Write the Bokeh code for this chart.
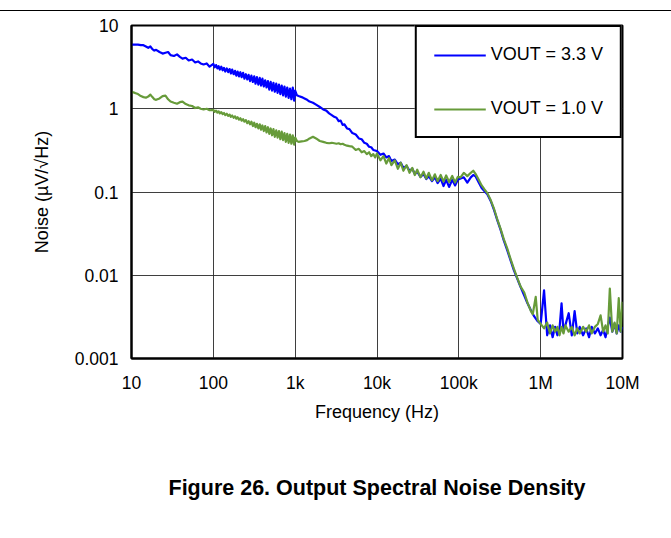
from bokeh.plotting import figure
from bokeh.models import FixedTicker, Legend, LegendItem, LogAxis, Div
from bokeh.layouts import column
from bokeh.embed import file_html
from bokeh.resources import INLINE

FONT = "Liberation Sans"

# ---------------- data ----------------
x_ticks = [10, 100, 1000, 10000, 100000, 1000000, 10000000]
x_tick_labels = ["10", "100", "1k", "10k", "100k", "1M", "10M"]
y_ticks = [0.001, 0.01, 0.1, 1, 10]
y_tick_labels = ["0.001", "0.01", "0.1", "1", "10"]

f_low = [10, 11, 12, 13, 14, 15, 16, 17, 18, 19, 20, 22, 24, 26, 28, 30, 33, 36, 39, 42,
         46, 50, 55, 60, 65, 70, 76, 83, 90]
f_mid = [100, 104, 108, 112, 116, 120, 125, 130, 135, 140, 146, 152, 158, 164, 170, 177,
         184, 191, 198, 206, 214, 222, 231, 240, 250, 260, 270, 281, 292, 304, 316, 328,
         341, 355, 369, 383, 398, 414, 430, 447, 465, 483, 502, 522, 543, 564, 587, 610,
         634, 659, 685, 712, 740, 769, 800, 832, 865, 899, 935, 972, 1000]
f_khz = [1050, 1100, 1200, 1300, 1400, 1500, 1650, 1800, 2000, 2200, 2400, 2600, 2800, 3000,
         3200, 3400, 3600, 3800, 4000, 4300, 4600, 5000, 5500, 6000, 6500, 7000, 7500, 8000,
         8500, 9000, 9500]
f_10k = [10000, 11000, 12000, 13000, 14000, 15000, 16500, 18000, 19500, 21000, 23000, 25000,
         27000, 29000, 31000, 34000, 37000, 40000, 43000, 47000, 51000, 55000, 60000, 65000,
         70000, 76000, 83000, 90000, 97000]
f_bump = [105000, 115000, 127000, 140000, 150000, 160000, 175000, 190000]
f_fall_33 = [205000, 223000, 245000, 269000, 295000, 324000, 355000, 390000, 430000, 470000,
             520000, 569000, 630000, 690000, 760000, 834000, 920000]
f_fall_10 = [205000, 223000, 245000, 269000, 295000, 324000, 355000, 390000, 430000, 470000,
             520000, 569000, 630000, 690000, 760000, 800000, 870000, 920000]
f_floor = [1.0e6, 1.1e6, 1.2e6, 1.3e6, 1.4e6, 1.5e6, 1.6e6, 1.7e6, 1.8e6, 1.9e6, 2.0e6,
           2.2e6, 2.4e6, 2.6e6, 2.8e6, 3.0e6, 3.3e6, 3.6e6, 3.9e6, 4.2e6, 4.6e6, 5.0e6,
           5.4e6, 5.8e6, 6.2e6, 6.6e6, 7.0e6, 7.5e6, 8.0e6, 8.5e6, 9.0e6, 9.5e6, 10.0e6]

# VOUT = 3.3 V  (µV/√Hz)
n33_low = [5.9, 5.9, 5.9, 5.8, 5.8, 5.6, 5.4, 5.6, 5.2, 5.0, 5.1, 4.8, 4.6, 4.7, 4.8, 4.4,
           4.3, 4.5, 4.2, 4.0, 4.1, 3.8, 3.9, 3.6, 3.7, 3.5, 3.4, 3.5, 3.2]
n33_mid = [3.45, 3.15, 3.35, 3.05, 3.25, 2.95, 3.2, 2.9, 3.1, 2.8, 3.05, 2.75, 3.0, 2.65,
           2.95, 2.6, 2.85, 2.5, 2.8, 2.45, 2.75, 2.4, 2.7, 2.3, 2.6, 2.25, 2.55, 2.15, 2.5,
           2.1, 2.45, 2.0, 2.4, 1.95, 2.35, 1.9, 2.3, 1.85, 2.2, 1.8, 2.15, 1.7, 2.1, 1.65,
           2.05, 1.6, 2.0, 1.55, 1.95, 1.5, 1.9, 1.45, 1.85, 1.4, 1.8, 1.35, 1.75, 1.3, 1.8,
           1.25, 1.65]
n33_khz = [1.45, 1.42, 1.38, 1.33, 1.28, 1.22, 1.18, 1.12, 1.05, 0.98, 0.95, 0.88, 0.84, 0.80,
           0.78, 0.71, 0.72, 0.64, 0.65, 0.58, 0.57, 0.51, 0.49, 0.44, 0.43, 0.39, 0.38, 0.35,
           0.345, 0.32, 0.315]
n33_10k = [0.31, 0.28, 0.29, 0.26, 0.27, 0.235, 0.245, 0.215, 0.225, 0.195, 0.205, 0.18, 0.19,
           0.165, 0.175, 0.152, 0.165, 0.143, 0.155, 0.135, 0.15, 0.128, 0.145, 0.118, 0.14,
           0.115, 0.14, 0.12, 0.14]
n33_bump = [0.145, 0.15, 0.13, 0.15, 0.16, 0.155, 0.13, 0.112]
n33_fall = [0.103, 0.094, 0.078, 0.061, 0.046, 0.035, 0.026, 0.020, 0.015, 0.0115, 0.0090,
            0.0072, 0.0057, 0.0046, 0.0038, 0.0032, 0.0028]
n33_floor = [0.0026, 0.0066, 0.0019, 0.0025, 0.0018, 0.0024, 0.0019, 0.0023, 0.0046, 0.0021,
             0.0025, 0.0035, 0.0019, 0.0037, 0.0020, 0.0024, 0.0019, 0.0023, 0.0018, 0.0024,
             0.0020, 0.0023, 0.0019, 0.0022, 0.0018, 0.0024, 0.0031, 0.0021, 0.0026, 0.0020,
             0.0025, 0.0021, 0.0024]

# VOUT = 1.0 V  (µV/√Hz)
n10_low = [1.6, 1.55, 1.5, 1.42, 1.38, 1.36, 1.4, 1.48, 1.38, 1.3, 1.28, 1.33, 1.42, 1.44,
           1.3, 1.22, 1.18, 1.15, 1.2, 1.22, 1.14, 1.1, 1.08, 1.02, 1.04, 1.0, 0.98, 1.0, 0.96]
n10_mid = [0.97, 0.92, 0.95, 0.90, 0.93, 0.88, 0.91, 0.86, 0.89, 0.84, 0.87, 0.82, 0.85,
           0.80, 0.83, 0.78, 0.81, 0.76, 0.79, 0.74, 0.77, 0.72, 0.75, 0.70, 0.73, 0.67,
           0.71, 0.65, 0.70, 0.62, 0.68, 0.60, 0.66, 0.58, 0.65, 0.56, 0.63, 0.54, 0.62,
           0.52, 0.60, 0.50, 0.58, 0.48, 0.57, 0.46, 0.55, 0.45, 0.54, 0.43, 0.53, 0.42,
           0.51, 0.40, 0.50, 0.39, 0.49, 0.38, 0.48, 0.37, 0.45]
n10_khz = [0.41, 0.40, 0.405, 0.41, 0.42, 0.44, 0.46, 0.44, 0.41, 0.40, 0.39, 0.385, 0.39,
           0.385, 0.38, 0.385, 0.375, 0.38, 0.37, 0.36, 0.355, 0.35, 0.32, 0.33, 0.30, 0.31,
           0.285, 0.30, 0.27, 0.285, 0.26]
n10_10k = [0.29, 0.24, 0.27, 0.22, 0.255, 0.21, 0.24, 0.19, 0.225, 0.18, 0.21, 0.17, 0.195,
           0.16, 0.185, 0.15, 0.175, 0.145, 0.17, 0.138, 0.163, 0.135, 0.16, 0.133, 0.158,
           0.132, 0.156, 0.13, 0.152]
n10_bump = [0.15, 0.17, 0.155, 0.17, 0.18, 0.165, 0.14, 0.12]
n10_fall = [0.108, 0.097, 0.080, 0.063, 0.047, 0.036, 0.027, 0.021, 0.0155, 0.012, 0.0092,
            0.0073, 0.0062, 0.0047, 0.0037, 0.0034, 0.0055, 0.0029]
n10_floor = [0.0026, 0.0023, 0.0027, 0.0020, 0.0025, 0.0021, 0.0024, 0.0019, 0.0024, 0.0020,
             0.0025, 0.0021, 0.0024, 0.0019, 0.0023, 0.0020, 0.0024, 0.0021, 0.0025, 0.0020,
             0.0024, 0.0026, 0.0033, 0.0021, 0.0025, 0.0020, 0.0069, 0.0021, 0.0027, 0.0020,
             0.0053, 0.0021, 0.0048]

freq_33 = f_low + f_mid + f_khz + f_10k + f_bump + f_fall_33 + f_floor
noise_33 = n33_low + n33_mid + n33_khz + n33_10k + n33_bump + n33_fall + n33_floor
freq_10 = f_low + f_mid + f_khz + f_10k + f_bump + f_fall_10 + f_floor
noise_10 = n10_low + n10_mid + n10_khz + n10_10k + n10_bump + n10_fall + n10_floor
assert len(freq_33) == len(noise_33) and len(freq_10) == len(noise_10)

series_labels = ["VOUT = 3.3 V", "VOUT = 1.0 V"]
series_colors = ["#0000FF", "#679B3A"]
caption_text = "Figure 26. Output Spectral Noise Density"

# ---------------- figure ----------------
p = figure(width=660, height=515, x_axis_type="log", y_axis_type="log",
           x_range=(10, 1e7), y_range=(0.001, 10),
           output_backend="svg", toolbar_location=None,
           min_border_left=131, min_border_right=38, min_border_top=14, min_border_bottom=168)
p.background_fill_color = "white"
p.border_fill_color = "white"
p.outline_line_color = "black"
p.outline_line_width = 2

r1 = p.line(freq_33, noise_33, line_color=series_colors[0], line_width=2.2, line_join="round")
r2 = p.line(freq_10, noise_10, line_color=series_colors[1], line_width=2.2, line_join="round")

p.xaxis.ticker = FixedTicker(ticks=x_ticks, minor_ticks=[])
p.yaxis.ticker = FixedTicker(ticks=y_ticks, minor_ticks=[])
p.xaxis.major_label_overrides = {t: s for t, s in zip(x_ticks, x_tick_labels)}
p.yaxis.major_label_overrides = {t: s for t, s in zip(y_ticks, y_tick_labels)}

for ax in (p.xaxis[0], p.yaxis[0]):
    ax.major_tick_line_color = None
    ax.minor_tick_line_color = None
    ax.major_tick_out = 0
    ax.minor_tick_out = 0
    ax.major_tick_in = 0
    ax.minor_tick_in = 0
    ax.axis_line_color = "black"
    ax.axis_line_width = 2
    ax.major_label_text_font = FONT
    ax.major_label_text_font_size = "17.5px"
    ax.major_label_text_color = "black"
    ax.axis_label_text_font = FONT
    ax.axis_label_text_font_size = "18px"
    ax.axis_label_text_font_style = "normal"
    ax.axis_label_text_color = "black"

p.xaxis.axis_label = "Frequency (Hz)"
p.xaxis.major_label_standoff = 14
p.xaxis.axis_label_standoff = 6
p.yaxis.axis_label = "Noise (µV/√Hz)"
p.yaxis.major_label_standoff = 13
p.yaxis.axis_label_standoff = 20

for g in (p.xgrid[0], p.ygrid[0]):
    g.grid_line_color = "#2a2a2a"
    g.grid_line_width = 1
    g.grid_line_alpha = 0.9

legend = Legend(items=[LegendItem(label=series_labels[0], renderers=[r1]),
                       LegendItem(label=series_labels[1], renderers=[r2])],
                location="top_right", margin=0, padding=17, spacing=33,
                glyph_width=52, glyph_height=20, label_standoff=5,
                label_text_font=FONT, label_text_font_size="18px",
                label_text_color="black",
                border_line_color="black", border_line_width=2, border_line_alpha=1,
                background_fill_color="white", background_fill_alpha=1)
p.add_layout(legend)

# figure caption, carried by a tick-less axis stacked under the frequency axis
caption_axis = LogAxis(ticker=FixedTicker(ticks=[], minor_ticks=[]),
                       axis_line_color=None, major_tick_line_color=None,
                       minor_tick_line_color=None, major_tick_out=0, minor_tick_out=0,
                       major_tick_in=0, minor_tick_in=0, major_label_standoff=0,
                       axis_label=caption_text, axis_label_standoff=51,
                       axis_label_text_font=FONT, axis_label_text_font_style="bold",
                       axis_label_text_font_size="21.5px", axis_label_text_color="black")
p.add_layout(caption_axis, "below")

top_rule = Div(text="", width=671, height=1, margin=(10, 0, 0, 0),
               styles={"border-top": "1px solid black"})

layout = column(top_rule, p, spacing=0)
open("out.html", "w").write(file_html(layout, INLINE))
